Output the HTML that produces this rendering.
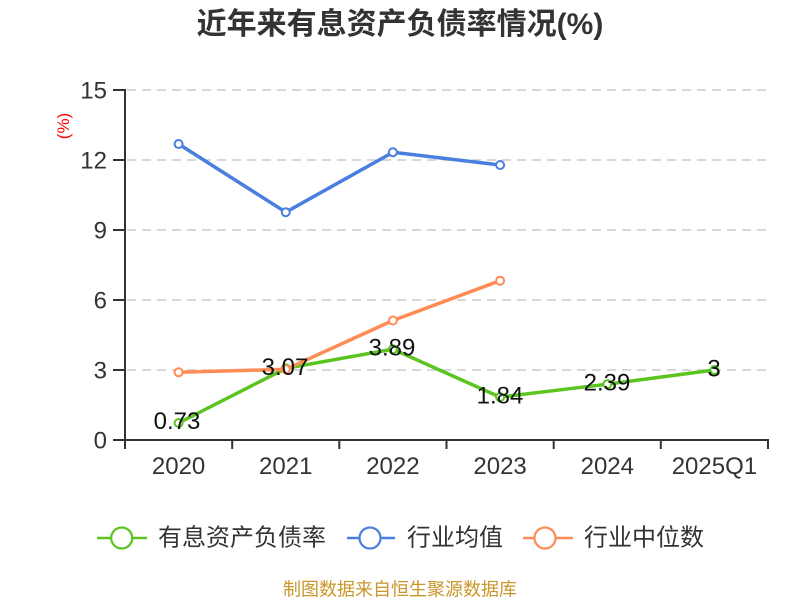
<!DOCTYPE html>
<html>
<head>
<meta charset="utf-8">
<style>
  html,body{margin:0;padding:0;background:#fff;}
  svg{display:block;}
  text{font-family:"Liberation Sans","Noto Sans CJK SC",sans-serif;}
</style>
</head>
<body>
<svg width="800" height="600" viewBox="0 0 800 600" xmlns="http://www.w3.org/2000/svg">
  <rect width="800" height="600" fill="#fff"/>
  <!-- title -->
  <text x="400" y="34" text-anchor="middle" font-size="30" font-weight="bold" fill="#333">近年来有息资产负债率情况(%)</text>

  <!-- y axis name -->
  <text transform="translate(69,126) rotate(-90)" text-anchor="middle" font-size="17" fill="#ff0000">(%)</text>

  <!-- grid lines -->
  <g stroke="#cccccc" stroke-width="1.5" stroke-dasharray="9 6">
    <line x1="127" y1="90" x2="768" y2="90"/>
    <line x1="127" y1="160" x2="768" y2="160"/>
    <line x1="127" y1="230" x2="768" y2="230"/>
    <line x1="127" y1="300" x2="768" y2="300"/>
    <line x1="127" y1="370" x2="768" y2="370"/>
  </g>

  <!-- axes -->
  <g stroke="#333" stroke-width="2">
    <line x1="125" y1="89" x2="125" y2="441"/>
    <line x1="124" y1="440" x2="769" y2="440"/>
    <line x1="113" y1="90" x2="125" y2="90"/>
    <line x1="113" y1="160" x2="125" y2="160"/>
    <line x1="113" y1="230" x2="125" y2="230"/>
    <line x1="113" y1="300" x2="125" y2="300"/>
    <line x1="113" y1="370" x2="125" y2="370"/>
    <line x1="113" y1="440" x2="125" y2="440"/>
    <line x1="125" y1="440" x2="125" y2="449"/>
    <line x1="232.2" y1="440" x2="232.2" y2="449"/>
    <line x1="339.3" y1="440" x2="339.3" y2="449"/>
    <line x1="446.5" y1="440" x2="446.5" y2="449"/>
    <line x1="553.7" y1="440" x2="553.7" y2="449"/>
    <line x1="660.8" y1="440" x2="660.8" y2="449"/>
    <line x1="768" y1="440" x2="768" y2="449"/>
  </g>

  <!-- y labels -->
  <g font-size="24" fill="#333" text-anchor="end">
    <text x="107" y="98.5">15</text>
    <text x="107" y="168.5">12</text>
    <text x="107" y="238.5">9</text>
    <text x="107" y="308.5">6</text>
    <text x="107" y="378.5">3</text>
    <text x="107" y="448.5">0</text>
  </g>

  <!-- x labels -->
  <g font-size="24" fill="#333" text-anchor="middle">
    <text x="178.6" y="474">2020</text>
    <text x="285.75" y="474">2021</text>
    <text x="392.9" y="474">2022</text>
    <text x="500.1" y="474">2023</text>
    <text x="607.3" y="474">2024</text>
    <text x="714.4" y="474">2025Q1</text>
  </g>

  <!-- green series -->
  <polyline fill="none" stroke="#5bc41f" stroke-width="3.5" stroke-linejoin="round"
    points="178.6,423 285.75,368.4 392.9,349.2 500.1,397.1 607.3,384.2 714.4,370"/>
  <g fill="#fff" stroke="#5bc41f" stroke-width="2">
    <circle cx="178.6" cy="423" r="4"/>
    <circle cx="285.75" cy="368.4" r="4"/>
    <circle cx="392.9" cy="349.2" r="4"/>
    <circle cx="500.1" cy="397.1" r="4"/>
    <circle cx="607.3" cy="384.2" r="4"/>
    <circle cx="714.4" cy="370" r="4"/>
  </g>

  <!-- blue series -->
  <polyline fill="none" stroke="#4a7fe0" stroke-width="3.5" stroke-linejoin="round"
    points="178.6,144 285.75,212.2 392.9,152.3 500.1,165"/>
  <g fill="#fff" stroke="#4a7fe0" stroke-width="2">
    <circle cx="178.6" cy="144" r="4"/>
    <circle cx="285.75" cy="212.2" r="4"/>
    <circle cx="392.9" cy="152.3" r="4"/>
    <circle cx="500.1" cy="165" r="4"/>
  </g>

  <!-- orange series -->
  <polyline fill="none" stroke="#ff8c55" stroke-width="3.5" stroke-linejoin="round"
    points="178.6,372.3 285.75,369.3 392.9,320.5 500.1,280.7"/>
  <g fill="#fff" stroke="#ff8c55" stroke-width="2">
    <circle cx="178.6" cy="372.3" r="4"/>
    <circle cx="285.75" cy="369.3" r="4"/>
    <circle cx="392.9" cy="320.5" r="4"/>
    <circle cx="500.1" cy="280.7" r="4"/>
  </g>

  <!-- data labels -->
  <g font-size="24" fill="#111" text-anchor="middle">
    <text x="177" y="429">0.73</text>
    <text x="285" y="375">3.07</text>
    <text x="392" y="355.5">3.89</text>
    <text x="500" y="403.5">1.84</text>
    <text x="607" y="390.5">2.39</text>
    <text x="714" y="376.5">3</text>
  </g>

  <!-- legend -->
  <g stroke-width="2.5">
    <line x1="97" y1="538" x2="147" y2="538" stroke="#5bc41f"/>
    <circle cx="121.7" cy="538" r="10.5" fill="#fff" stroke="#5bc41f" stroke-width="2.2"/>
    <line x1="347" y1="538" x2="395" y2="538" stroke="#4a7fe0"/>
    <circle cx="370" cy="538" r="10.5" fill="#fff" stroke="#4a7fe0" stroke-width="2.2"/>
    <line x1="523" y1="538" x2="573" y2="538" stroke="#ff8c55"/>
    <circle cx="545" cy="538" r="10.5" fill="#fff" stroke="#ff8c55" stroke-width="2.2"/>
  </g>
  <g font-size="24" fill="#333">
    <text x="158" y="545.5">有息资产负债率</text>
    <text x="407" y="545.5">行业均值</text>
    <text x="584" y="545.5">行业中位数</text>
  </g>

  <!-- footer -->
  <text x="400" y="595.5" text-anchor="middle" font-size="18" fill="#c8962a">制图数据来自恒生聚源数据库</text>
</svg>
</body>
</html>
